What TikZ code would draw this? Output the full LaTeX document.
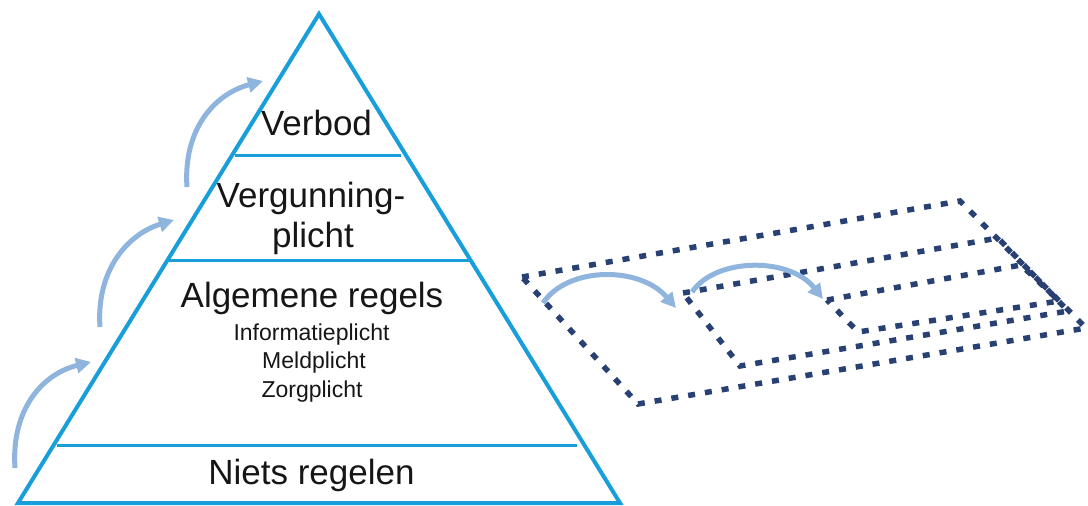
\documentclass[tikz,border=0pt]{standalone}
\usepackage{fontspec}
\setmainfont{Liberation Sans}
\usetikzlibrary{arrows.meta}
\definecolor{pyr}{RGB}{25,158,220}
\definecolor{arr}{RGB}{143,180,221}
\definecolor{navy}{RGB}{40,64,114}
\definecolor{txt}{RGB}{22,22,22}
\begin{document}
\begin{tikzpicture}[x=1pt,y=-1pt,
  pyredge/.style={draw=pyr,line width=4pt,line join=miter},
  pyrsep/.style={draw=pyr,line width=3pt},
  bigtxt/.style={font=\fontsize{35}{40}\selectfont,text=txt,anchor=base,inner sep=0pt},
  smalltxt/.style={font=\fontsize{23}{28}\selectfont,text=txt,anchor=base,inner sep=0pt},
  risearrow/.style={draw=arr,line width=5pt,-{Triangle[length=15pt,width=15pt]}},
  plane/.style={draw=navy,line width=5.5pt,dash pattern=on 7pt off 10pt}]
\useasboundingbox (0,0) rectangle (1088,506);

% pyramid
\coordinate (apex) at (319,14);
\coordinate (bl) at (18,503);
\coordinate (br) at (620,503);
\draw[pyredge] (apex) -- (br) -- (bl) -- cycle;
\coordinate (s1l) at (235,155.5); \coordinate (s1r) at (401,155.5);
\coordinate (s2l) at (169,260);   \coordinate (s2r) at (469,260);
\coordinate (s3l) at (57,445);    \coordinate (s3r) at (577,445);
\draw[pyrsep] (s1l) -- (s1r);
\draw[pyrsep] (s2l) -- (s2r);
\draw[pyrsep] (s3l) -- (s3r);

% texts
\node[bigtxt] (verbod) at (316.5,135) {Verbod};
\node[bigtxt] (verg) at (311,207) {Vergunning-};
\node[bigtxt] (plicht) at (313,247) {plicht};
\node[bigtxt] (alg) at (312,307) {Algemene regels};
\node[smalltxt] (info) at (311.5,340) {Informatieplicht};
\node[smalltxt] (meld) at (314,368) {Meldplicht};
\node[smalltxt] (zorg) at (312,397) {Zorgplicht};
\node[bigtxt] (niets) at (311.5,484) {Niets regelen};

% rising arrows on the left
\coordinate (a1s) at (15,468);  \coordinate (a1e) at (91,362);
\coordinate (a2s) at (100,327); \coordinate (a2e) at (174,220);
\coordinate (a3s) at (187,187); \coordinate (a3e) at (263,81);
\draw[risearrow] (a1s) .. controls (11,410) and (42,374) .. (a1e);
\draw[risearrow] (a2s) .. controls (96,270) and (128,234) .. (a2e);
\draw[risearrow] (a3s) .. controls (183,130) and (214,94) .. (a3e);

% planes
\coordinate (oTL) at (522,277); \coordinate (oTR) at (960,201);
\coordinate (oBR) at (1086,328); \coordinate (oBL) at (638,404);
\coordinate (mTL) at (683,293); \coordinate (mTR) at (998,238);
\coordinate (mBR) at (1068,311); \coordinate (mBL) at (740,366);
\coordinate (iTL) at (827,300); \coordinate (iTR) at (1021,265);
\coordinate (iBR) at (1059,301); \coordinate (iBL) at (858,332);
\draw[plane] (oTL) -- (oTR) -- (oBR) -- (oBL) -- cycle;
\draw[plane] (mTL) -- (mTR) -- (mBR) -- (mBL) -- cycle;
\draw[plane] (iTL) -- (iTR) -- (iBR) -- (iBL) -- cycle;

% hopping arrows
\coordinate (h1s) at (543,303); \coordinate (h1e) at (676,308);
\coordinate (h2s) at (692,292); \coordinate (h2e) at (823,299);
\draw[risearrow] (h1s) .. controls (568,266) and (640,266) .. (h1e);
\draw[risearrow] (h2s) .. controls (716,257) and (790,257) .. (h2e);
\end{tikzpicture}
\end{document}
